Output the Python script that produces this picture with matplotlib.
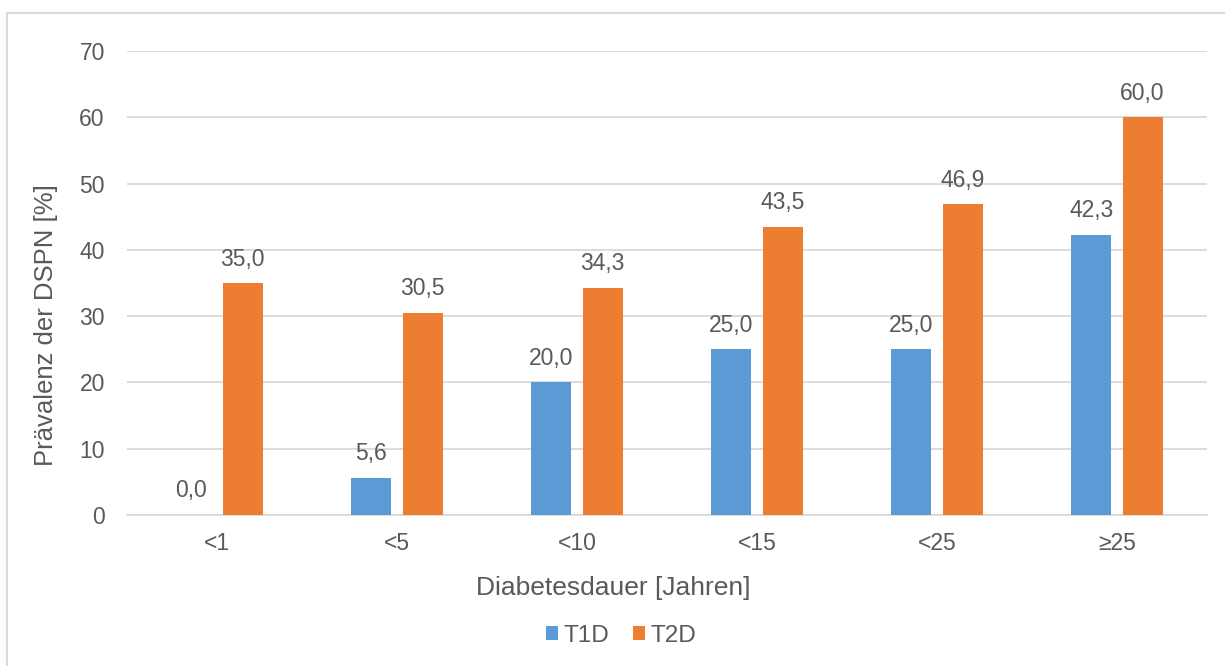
import matplotlib
matplotlib.use("Agg")
import matplotlib.pyplot as plt
from matplotlib.patches import Rectangle
import numpy as np

categories = ["<1", "<5", "<10", "<15", "<25", "≥25"]
t1d = [0.0, 5.6, 20.0, 25.0, 25.0, 42.3]
t2d = [35.0, 30.5, 34.3, 43.5, 46.9, 60.0]
series_names = ["T1D", "T2D"]
yticks = [0, 10, 20, 30, 40, 50, 60, 70]

plt.rcParams["font.family"] = ["Liberation Sans", "DejaVu Sans"]
text_color = "#595959"
grid_color = "#D9D9D9"
blue = "#5B9BD5"
orange = "#ED7D31"

fig = plt.figure(figsize=(12.25, 6.66), dpi=100)
# Outer chart frame
fig.patches.append(Rectangle((7 / 1225, -0.05), 1.1, 1 - 13 / 666 + 0.05,
                             transform=fig.transFigure, fill=False,
                             edgecolor=grid_color, linewidth=1.5))

ax = fig.add_axes([127 / 1225, 151 / 666, 1080 / 1225, 464 / 666])
x = np.arange(len(categories))
width = 0.222
offset = 0.142

b1 = ax.bar(x - offset, t1d, width, color=blue, label=series_names[0], zorder=3)
b2 = ax.bar(x + offset, t2d, width, color=orange, label=series_names[1], zorder=3)

def fmt(v):
    return f"{v:.1f}".replace(".", ",")

for bars, vals in ((b1, t1d), (b2, t2d)):
    for rect, v in zip(bars, vals):
        ax.annotate(fmt(v), (rect.get_x() + rect.get_width() / 2, v),
                    xytext=(0, 9), textcoords="offset points",
                    ha="center", va="bottom", fontsize=16.5, color=text_color)

ax.set_xlim(-0.5, len(categories) - 0.5)
ax.set_ylim(0, 70)
ax.set_yticks(yticks)
ax.set_xticks(x)
ax.set_xticklabels(categories)
ax.yaxis.grid(True, color=grid_color, linewidth=1.3, zorder=0)
for s in ["top", "right", "left"]:
    ax.spines[s].set_visible(False)
ax.spines["bottom"].set_color(grid_color)
ax.spines["bottom"].set_linewidth(1.3)
ax.tick_params(axis="both", length=0, labelsize=16.5, labelcolor=text_color)
ax.tick_params(axis="y", pad=16)
ax.tick_params(axis="x", pad=12)

# Axis titles, centred on the chart area
fig.text(613 / 1225, 1 - 588 / 666, "Diabetesdauer [Jahren]", fontsize=19,
         color=text_color, ha="center", va="center")
fig.text(46 / 1225, 1 - 325 / 666, "Prävalenz der DSPN [%]", fontsize=18.5,
         color=text_color, ha="center", va="center", rotation=90)

leg = fig.legend(handles=[b1, b2], labels=series_names, loc="center",
                 bbox_to_anchor=(621 / 1225, 1 - 636 / 666), ncol=2, frameon=False,
                 fontsize=17.5, handlelength=0.5, handleheight=0.5,
                 handletextpad=0.2, columnspacing=1.0)
for t in leg.get_texts():
    t.set_color(text_color)

fig.savefig("out.png", dpi=100)
